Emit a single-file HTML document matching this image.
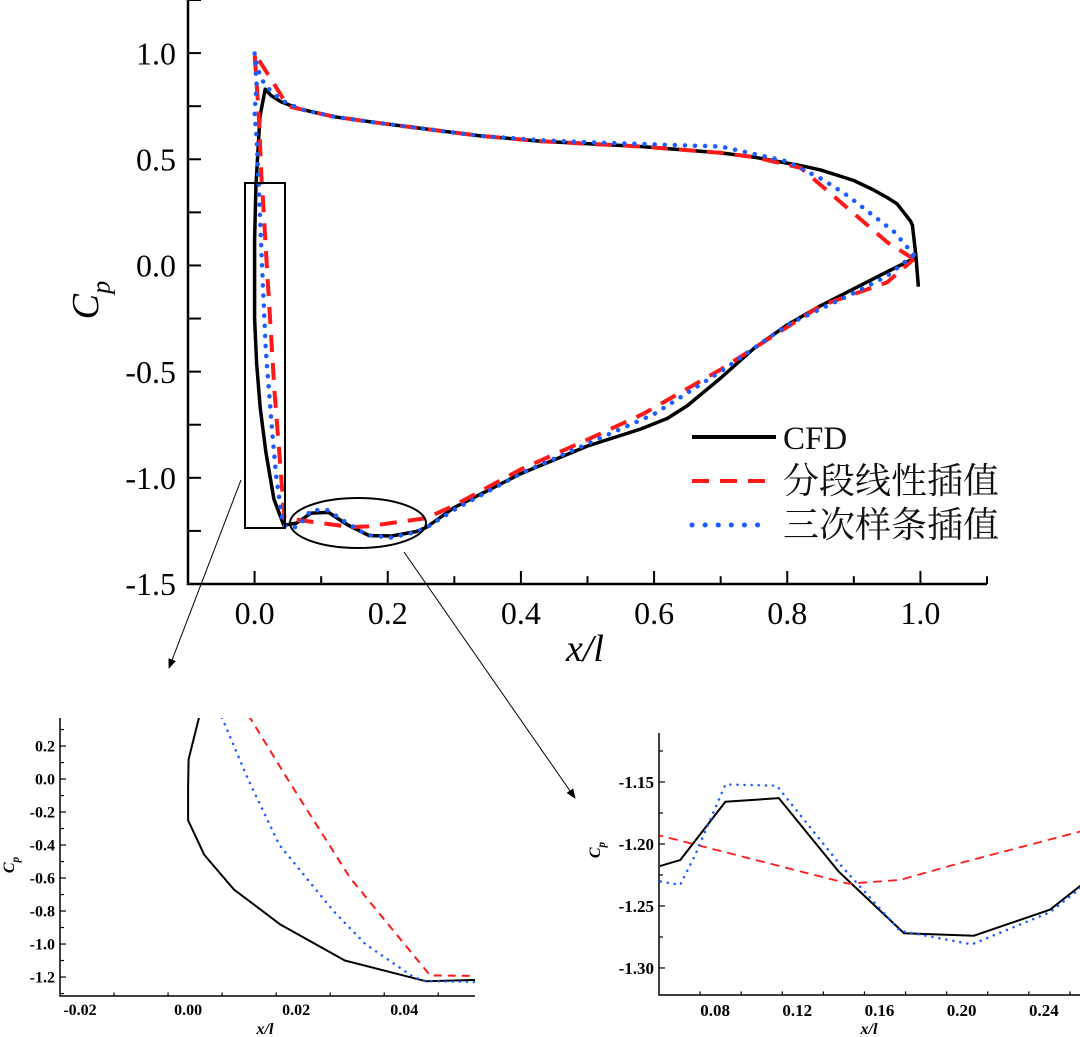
<!DOCTYPE html>
<html><head><meta charset="utf-8"><style>
html,body{margin:0;padding:0;background:#fff;}
svg{display:block;}
text{font-family:"Liberation Serif","Noto Serif CJK SC",serif;}
</style></head><body>
<svg id="fig" width="1080" height="1037" viewBox="0 0 1080 1037" xmlns="http://www.w3.org/2000/svg" font-family="'Liberation Serif', 'Noto Serif CJK SC', serif">
<defs>
<clipPath id="clipMain"><rect x="188" y="0" width="800" height="584"/></clipPath>
<clipPath id="clipA"><rect x="61" y="718" width="414" height="278"/></clipPath>
<clipPath id="clipB"><rect x="660" y="733" width="420" height="262"/></clipPath>
<marker id="arr" viewBox="0 0 10 10" refX="9" refY="5" markerWidth="10" markerHeight="10" markerUnits="userSpaceOnUse" orient="auto"><path d="M0,1 L10,5 L0,9 z" fill="#000"/></marker>
</defs>
</svg>
<script>
// ---- data ----
const cfdX=[0.997,0.993,0.988,0.985,0.975,0.965,0.95,0.93,0.9,0.85,0.82,0.75,0.7,0.58,0.43,0.339,0.189,0.12,0.069,0.04,0.025,0.016,0.008,0.002,0.0001,0,0,0.003,0.0085,0.017,0.029,0.044,0.0527,0.063,0.085,0.111,0.14,0.172,0.206,0.243,0.2576,0.3,0.4,0.5,0.58,0.62,0.65,0.7,0.75,0.8,0.85,0.9,0.95,0.995];
const cfdY=[-0.1,0.05,0.19,0.21,0.25,0.29,0.32,0.355,0.40,0.45,0.47,0.51,0.53,0.56,0.585,0.61,0.67,0.70,0.736,0.77,0.80,0.83,0.70,0.37,0.12,-0.05,-0.25,-0.46,-0.67,-0.88,-1.10,-1.225,-1.218,-1.213,-1.166,-1.163,-1.222,-1.272,-1.274,-1.253,-1.234,-1.14,-0.98,-0.85,-0.77,-0.72,-0.66,-0.53,-0.39,-0.28,-0.19,-0.11,-0.03,0.04];
const linX=[0.99,0.95,0.82,0.75,0.7,0.58,0.43,0.339,0.189,0.12,0.069,0.05,0,0.006,0.0105,0.0115,0.0184,0.030,0.0448,0.0527,0.145,0.17,0.2,0.2576,0.3,0.4,0.5,0.583,0.7,0.78,0.85,0.95,0.99];
const linY=[0.03,0.11,0.46,0.51,0.53,0.56,0.585,0.61,0.67,0.70,0.736,0.75,1.0,0.72,0.40,0.37,0.0,-0.6,-1.19,-1.193,-1.232,-1.229,-1.215,-1.19,-1.13,-0.96,-0.82,-0.70,-0.49,-0.33,-0.19,-0.08,0.03];
const splX=[0.99,0.96,0.89,0.853,0.8,0.7,0.6,0.5,0.43,0.339,0.189,0.12,0.069,0.039,0.015,0.004,0,0.003,0,0.003,0.0063,0.0111,0.0169,0.0269,0.0328,0.0417,0.044,0.0527,0.063,0.07,0.085,0.11,0.14,0.17,0.205,0.243,0.2576,0.3,0.4,0.5,0.6,0.7,0.8,0.9,0.95,0.99];
const splY=[0.05,0.16,0.33,0.405,0.49,0.56,0.57,0.58,0.59,0.61,0.67,0.70,0.736,0.78,0.85,0.93,1.0,0.85,0.72,0.6,0.37,0.0,-0.4,-0.8,-1.0,-1.2,-1.225,-1.23,-1.233,-1.21,-1.152,-1.153,-1.215,-1.27,-1.281,-1.255,-1.236,-1.15,-0.98,-0.84,-0.70,-0.50,-0.28,-0.13,-0.05,0.05];
const mainXTicks=["0.0","0.2","0.4","0.6","0.8","1.0"];
const mainYTicks=["-1.5","-1.0","-0.5","0.0","0.5","1.0"];
const insAXTicks=["-0.02","0.00","0.02","0.04"];
const insAYTicks=["-1.2","-1.0","-0.8","-0.6","-0.4","-0.2","0.0","0.2"];
const insBXTicks=["0.08","0.12","0.16","0.20","0.24"];
const insBYTicks=["-1.30","-1.25","-1.20","-1.15"];
const legendLabels=["CFD","分段线性插值","三次样条插值"];

const NS="http://www.w3.org/2000/svg";
const FONT="'Liberation Serif', 'Noto Serif CJK SC', serif";
const svg=document.getElementById('fig');
function el(tag,attrs,parent){const e=document.createElementNS(NS,tag);for(const k in attrs)e.setAttribute(k,attrs[k]);(parent||svg).appendChild(e);return e;}
function scale(d0,d1,r0,r1){return v=>r0+(v-d0)*(r1-r0)/(d1-d0);}

function panel(cfg){
  const g=el('g',{});
  
  
  const sx=scale(cfg.xd[0],cfg.xd[1],cfg.L,cfg.R), sy=scale(cfg.yd[0],cfg.yd[1],cfg.B,cfg.T);
  const series=[
    {x:cfdX,y:cfdY,st:{stroke:'#000','stroke-width':cfg.w[0],fill:'none','stroke-linejoin':'round'},n:'cfd-line'},
    {x:linX,y:linY,st:{stroke:'#ff1a1a','stroke-width':cfg.w[1],fill:'none','stroke-dasharray':cfg.dash},n:'linear-interp-line'},
    {x:splX,y:splY,st:{stroke:'#1a5cff','stroke-width':cfg.w[2],fill:'none','stroke-dasharray':cfg.dot,'stroke-linecap':'round'},n:'spline-interp-line'}
  ];
  const sg=el('g',{'clip-path':'url(#'+cfg.clip+')'},g);
  series.forEach(s=>{
    let d='';s.x.forEach((v,i)=>{d+=(i?'L':'M')+sx(v).toFixed(1)+','+sy(s.y[i]).toFixed(1);});
    const p=el('path',Object.assign({d:d},s.st),sg);
    
    
  });
  const ax=el('path',{d:`M${cfg.L},${cfg.T}V${cfg.B}H${cfg.R}`,stroke:'#000','stroke-width':cfg.aw,fill:'none'},g);
  
  
  for(let v=cfg.xd[0];v<=cfg.xd[1]+1e-9;v+=cfg.xminor){
    const x=sx(v); if(x<cfg.L+1)continue;
    const maj=cfg.xTicks.some(t=>Math.abs(parseFloat(t)-v)<1e-6);
    el('line',{x1:x,x2:x,y1:cfg.B,y2:cfg.B-(maj?cfg.tl:cfg.tl*0.6),stroke:'#000','stroke-width':cfg.aw*0.8},g);
  }
  const y0=Math.ceil(cfg.yd[0]/cfg.yminor-1e-9)*cfg.yminor;
  for(let v=y0;v<=cfg.yd[1]+1e-9;v+=cfg.yminor){
    const y=sy(v); if(y>cfg.B-1)continue;
    const maj=cfg.yTicks.some(t=>Math.abs(parseFloat(t)-v)<1e-6);
    el('line',{x1:cfg.L,x2:cfg.L+(maj?cfg.tl:cfg.ytl2),y1:y,y2:y,stroke:'#000','stroke-width':cfg.aw*0.8},g);
  }
  cfg.xTicks.forEach(t=>{
    const tx=el('text',{x:sx(parseFloat(t)),y:cfg.B+cfg.xlo,'text-anchor':'middle','font-size':cfg.fs,'font-weight':cfg.fw,'font-family':FONT},g);
    tx.textContent=t;
    
    
  });
  cfg.yTicks.forEach(t=>{
    const tx=el('text',{x:cfg.L-cfg.ylo,y:sy(parseFloat(t))+cfg.fs*0.35,'text-anchor':'end','font-size':cfg.fs,'font-weight':cfg.fw,'font-family':FONT},g);
    tx.textContent=t;
    
    
  });
  const xt=el('text',{x:cfg.xt[0],y:cfg.xt[1],'text-anchor':'middle','font-size':cfg.tfs,'font-style':'italic','font-weight':cfg.fw,'font-family':FONT},g);
  xt.textContent='x/l';
  
  
  const yt=el('text',{transform:`translate(${cfg.yt[0]},${cfg.yt[1]}) rotate(-90)`,'text-anchor':'middle','font-size':cfg.tfs,'font-style':'italic','font-weight':cfg.fw,'font-family':FONT},g);
  yt.innerHTML='C<tspan dy="'+(cfg.tfs*0.3)+'" font-size="'+(cfg.tfs*0.7)+'">p</tspan>';
  
  
  return {g,sx,sy};
}

const main=panel({name:'main-chart',xd:[-0.1,1.1],yd:[-1.5,1.25],L:188,R:987,T:0,B:584,clip:'clipMain',
  w:[3.5,4,4.5],dash:'17 11',dot:'0.1 10',aw:2.5,tl:13,ytl2:13,xminor:0.1,yminor:0.25,
  xTicks:mainXTicks,yTicks:mainYTicks,fs:32,fw:'normal',xlo:40,ylo:12,tfs:38,xt:[585,661],yt:[98,300]});
const A=panel({name:'inset-leading-edge',xd:[-0.0237,0.0531],yd:[-1.315,0.37],L:60,R:475,T:718,B:996,clip:'clipA',
  w:[2,2,2.5],dash:'8 6',dot:'0.1 7',aw:1.5,tl:6,ytl2:4,xminor:0.01,yminor:0.1,
  xTicks:insAXTicks,yTicks:insAYTicks,fs:16,fw:'bold',xlo:19,ylo:5,tfs:16,xt:[265,1034],yt:[14,865]});
const B=panel({name:'inset-suction-peak',xd:[0.0527,0.2576],yd:[-1.3218,-1.1105],L:659,R:1080,T:733,B:995,clip:'clipB',
  w:[2,1.8,2.5],dash:'9 6',dot:'0.1 7',aw:1.5,tl:6,ytl2:4,xminor:0.02,yminor:0.025,
  xTicks:insBXTicks,yTicks:insBYTicks,fs:17,fw:'bold',xlo:21,ylo:5,tfs:16,xt:[869,1034],yt:[600,850]});

const box=el('rect',{x:245,y:183,width:40,height:345,fill:'none',stroke:'#000','stroke-width':2});


const ell=el('ellipse',{cx:358,cy:523,rx:68,ry:25,fill:'none',stroke:'#000','stroke-width':2});


const a1=el('line',{x1:241,y1:480,x2:169,y2:668,stroke:'#000','stroke-width':1,'marker-end':'url(#arr)'});


const a2=el('line',{x1:404,y1:552,x2:575,y2:798,stroke:'#000','stroke-width':1,'marker-end':'url(#arr)'});



const lg=el('g',{});


const lsty=[{stroke:'#000','stroke-width':4},{stroke:'#ff1a1a','stroke-width':4,'stroke-dasharray':'17 11'},{stroke:'#1a5cff','stroke-width':5,'stroke-dasharray':'0.1 13','stroke-linecap':'round'}];
const ly=[437,481,525];
legendLabels.forEach((t,i)=>{
  const ln=el('line',Object.assign({x1:692,x2:(i==2?764:776),y1:ly[i],y2:ly[i]},lsty[i]),lg);
  
  
  const tx=el('text',{x:783,y:ly[i]+12,'font-size':(i==0?33:36),fill:'#111','font-family':FONT},lg);
  tx.textContent=t;
  
  
});
</script>
</body></html>
